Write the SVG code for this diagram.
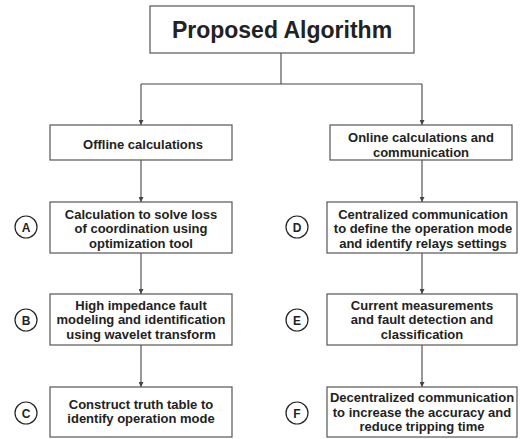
<svg xmlns="http://www.w3.org/2000/svg" width="522" height="439" viewBox="0 0 522 439">
<style>
.box{fill:#fff;stroke:#555;stroke-width:1.2}
.t{font-family:"Liberation Sans",Arial,sans-serif;font-weight:bold;font-size:13px;fill:#222;text-anchor:middle}
.title{font-size:23px}
.c{fill:#fff;stroke:#222;stroke-width:1.2}
.ct{font-size:12px}
.ln{fill:none;stroke:#444;stroke-width:1.1}
</style>
<defs>
<marker id="ah" viewBox="0 0 6 6" refX="6" refY="3" markerWidth="5" markerHeight="5" orient="auto" markerUnits="userSpaceOnUse">
<path d="M0,0 L6,3 L0,6 z" fill="#444"/>
</marker>
</defs>
<rect width="522" height="439" fill="#fff"/>
<g id="connectors">
<path class="ln" d="M281,53 V84"/>
<path class="ln" d="M141,84 H422"/>
<path class="ln" d="M141,84 V125" marker-end="url(#ah)"/>
<path class="ln" d="M422,84 V125" marker-end="url(#ah)"/>
<path class="ln" d="M141,160 V202" marker-end="url(#ah)"/>
<path class="ln" d="M141,253 V294" marker-end="url(#ah)"/>
<path class="ln" d="M141,345 V387" marker-end="url(#ah)"/>
<path class="ln" d="M422,160 V202" marker-end="url(#ah)"/>
<path class="ln" d="M422,253 V294" marker-end="url(#ah)"/>
<path class="ln" d="M422,345 V387" marker-end="url(#ah)"/>
</g>
<g id="title">
<rect class="box" x="150" y="6" width="264" height="47"/>
<text class="t title" x="282" y="37.5">Proposed Algorithm</text>
</g>
<g id="offline">
<rect class="box" x="50" y="125" width="182" height="35"/>
<text class="t" x="143" y="148.5">Offline calculations</text>
</g>
<g id="online">
<rect class="box" x="330" y="125" width="182" height="35"/>
<text class="t" x="421" y="141.5">Online calculations and</text>
<text class="t" x="421" y="156.5">communication</text>
</g>
<g id="A">
<rect class="box" x="50" y="202" width="182" height="51"/>
<text class="t" x="141" y="218.5">Calculation to solve loss</text>
<text class="t" x="141" y="233">of coordination using</text>
<text class="t" x="141" y="247.5">optimization tool</text>
<circle class="c" cx="26" cy="227" r="11"/>
<text class="t ct" x="26" y="231.5">A</text>
</g>
<g id="B">
<rect class="box" x="50" y="294" width="182" height="51"/>
<text class="t" x="141" y="309.5">High impedance fault</text>
<text class="t" x="141" y="324">modeling and identification</text>
<text class="t" x="141" y="338.5">using wavelet transform</text>
<circle class="c" cx="26" cy="320" r="11"/>
<text class="t ct" x="26" y="324.5">B</text>
</g>
<g id="C">
<rect class="box" x="50" y="387" width="182" height="50"/>
<text class="t" x="141" y="408.5">Construct truth table to</text>
<text class="t" x="141" y="423">identify operation mode</text>
<circle class="c" cx="26" cy="413" r="11"/>
<text class="t ct" x="26" y="417.5">C</text>
</g>
<g id="D">
<rect class="box" x="327" y="202" width="190" height="51"/>
<text class="t" x="423" y="218.5">Centralized communication</text>
<text class="t" x="423" y="233">to define the operation mode</text>
<text class="t" x="423" y="247.5">and identify relays settings</text>
<circle class="c" cx="297" cy="227" r="11"/>
<text class="t ct" x="297" y="231.5">D</text>
</g>
<g id="E">
<rect class="box" x="327" y="294" width="190" height="51"/>
<text class="t" x="422" y="309.5">Current measurements</text>
<text class="t" x="422" y="324">and fault detection and</text>
<text class="t" x="422" y="338.5">classification</text>
<circle class="c" cx="297" cy="320" r="11"/>
<text class="t ct" x="297" y="324.5">E</text>
</g>
<g id="F">
<rect class="box" x="327" y="387" width="190" height="50"/>
<text class="t" x="422" y="401.5">Decentralized communication</text>
<text class="t" x="422" y="416.5">to increase the accuracy and</text>
<text class="t" x="422" y="431">reduce tripping time</text>
<circle class="c" cx="297" cy="413" r="11"/>
<text class="t ct" x="297" y="417.5">F</text>
</g>
</svg>
